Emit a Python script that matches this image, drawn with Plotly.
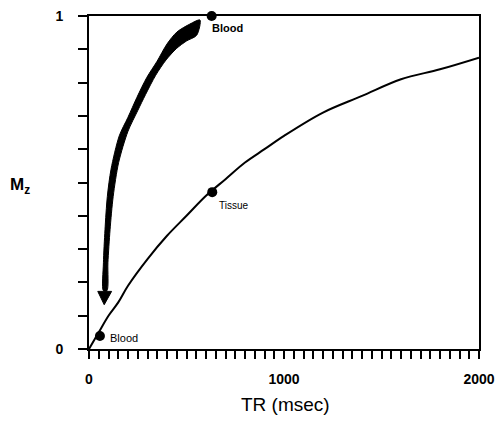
import plotly.graph_objects as go

# Tissue recovery curve (TR in msec, Mz fraction)
tissue_tr = [0, 50, 100, 150, 200, 300, 400, 500, 600, 700, 800, 900, 1000, 1200, 1400, 1600, 1800, 2000]
tissue_mz = [0, 0.05, 0.10, 0.14, 0.19, 0.27, 0.34, 0.40, 0.46, 0.51, 0.56, 0.60, 0.64, 0.71, 0.76, 0.81, 0.84, 0.875]

# Labelled points
point_tr = [629, 632, 56]
point_mz = [1.0, 0.471, 0.039]
point_labels = ["Blood", "Tissue", "Blood"]

# Curved arrow band (outline, in data units)
arrow_tr = [569, 518, 451, 400, 349, 297, 246, 200, 155, 113, 94, 82, 74, 74,
            92, 97, 108, 124, 152, 200, 250, 290, 342, 395, 448, 500, 552, 569]
arrow_mz = [0.988, 0.976, 0.952, 0.916, 0.864, 0.816, 0.756, 0.696, 0.640, 0.540, 0.458, 0.358, 0.259, 0.175,
            0.175, 0.259, 0.358, 0.458, 0.560, 0.654, 0.716, 0.764, 0.822, 0.868, 0.902, 0.925, 0.942, 0.988]
head_tr = [45, 116, 78, 45]
head_mz = [0.173, 0.173, 0.133, 0.173]

x_tickvals = [0, 1000, 2000]
x_ticktext = ["<b>0</b>", "<b>1000</b>", "<b>2000</b>"]
y_tickvals = [0, 1]
y_ticktext = ["<b>0</b>", "<b>1</b>"]

FONT = "Liberation Sans, Arial, sans-serif"

fig = go.Figure()
fig.add_trace(go.Scatter(x=arrow_tr, y=arrow_mz, mode="lines", fill="toself",
                         fillcolor="black", line=dict(color="black", width=1, shape="spline", smoothing=0.8),
                         hoverinfo="skip", showlegend=False))
fig.add_trace(go.Scatter(x=head_tr, y=head_mz, mode="lines", fill="toself",
                         fillcolor="black", line=dict(color="black", width=1),
                         hoverinfo="skip", showlegend=False))
fig.add_trace(go.Scatter(x=tissue_tr, y=tissue_mz, mode="lines",
                         line=dict(color="black", width=2, shape="spline"),
                         showlegend=False, cliponaxis=False))
fig.add_trace(go.Scatter(x=point_tr, y=point_mz, mode="markers",
                         marker=dict(color="black", size=10),
                         showlegend=False, cliponaxis=False))

label_pos = [(620, 0.964), (655, 0.431), (99, 0.033)]
label_sizes = [11, 10, 11]
label_bold = [True, False, False]
for (lx, ly), txt, sz, b in zip(label_pos, point_labels, label_sizes, label_bold):
    fig.add_annotation(x=lx, y=ly, text=f"<b>{txt}</b>" if b else txt, showarrow=False, xanchor="left",
                       yanchor="middle", font=dict(family=FONT, size=sz, color="black"))

fig.add_annotation(xref="paper", yref="paper", x=-0.208, y=0.49, text="<b>M<sub>z</sub></b>",
                   showarrow=False, xanchor="left", yanchor="middle",
                   font=dict(family=FONT, size=17, color="black"))
fig.add_annotation(xref="paper", yref="paper", x=0.504, y=-0.168, text="TR (msec)",
                   showarrow=False, xanchor="center", yanchor="middle",
                   font=dict(family=FONT, size=19, color="black"))

fig.update_xaxes(range=[0, 2000], showline=True, linecolor="black", linewidth=2, mirror=True,
                 ticks="outside", ticklen=8, tickwidth=2, tickcolor="black",
                 tickvals=x_tickvals, ticktext=x_ticktext, ticklabelstandoff=8,
                 tickfont=dict(family=FONT, size=14, color="black"), automargin=False,
                 minor=dict(dtick=50, ticks="outside", ticklen=8, tickwidth=1.5, tickcolor="black"),
                 showgrid=False, zeroline=False)
fig.update_yaxes(range=[0, 1], showline=True, linecolor="black", linewidth=2, mirror=True,
                 ticks="outside", ticklen=9, tickwidth=2, tickcolor="black",
                 tickvals=y_tickvals, ticktext=y_ticktext, ticklabelstandoff=12,
                 tickfont=dict(family=FONT, size=14, color="black"), automargin=False,
                 minor=dict(dtick=0.1, ticks="outside", ticklen=9, tickwidth=1.5, tickcolor="black"),
                 showgrid=False, zeroline=False)

fig.update_layout(width=497, height=424, margin=dict(l=89, r=18, t=16, b=75),
                  paper_bgcolor="white", plot_bgcolor="white", showlegend=False)

fig.write_html("out.html", config={"displayModeBar": False},
               post_script="document.body.style.margin='0px';document.body.style.overflow='hidden';")
